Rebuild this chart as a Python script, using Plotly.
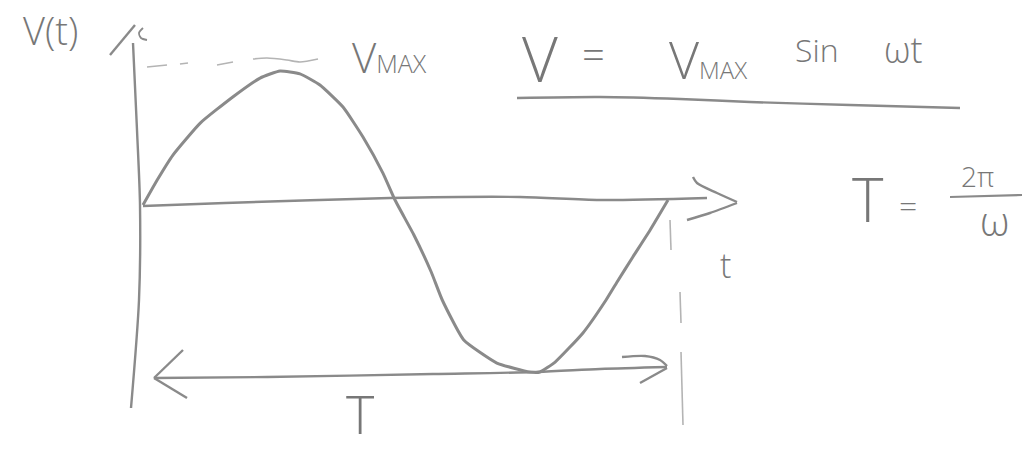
import plotly.graph_objects as go

# One period of the sketched waveform: time as a fraction of the period T,
# voltage as a fraction of V_MAX (hand-drawn, so the trough overshoots a bit).
t_frac = [0.000, 0.027, 0.057, 0.109, 0.171, 0.223, 0.261, 0.299, 0.337,
          0.381, 0.419, 0.457, 0.480, 0.516, 0.549, 0.570, 0.611, 0.674,
          0.737, 0.756, 0.785, 0.838, 0.882, 0.903, 0.933, 0.966, 1.000]
v_frac = [0.000, 0.176, 0.352, 0.577, 0.761, 0.894, 0.944, 0.923, 0.845,
          0.690, 0.479, 0.225, 0.035, -0.211, -0.472, -0.669, -0.951, -1.113,
          -1.176, -1.176, -1.106, -0.901, -0.669, -0.542, -0.366, -0.176, 0.035]

W, H = 1025, 451
# Where t=0 / v=0 sit on the sheet, and how many pixels one period / V_MAX spans
T0_PX, T_SPAN_PX = 143, 525
V0_PX, VMAX_PX = 205, 142

PENCIL = "#8a8a8a"
PENCIL_LIGHT = "#b4b4b4"
INK_FONT = dict(family="Open Sans", color="#777777", weight=300)

fig = go.Figure()

# Waveform on the data axes
fig.add_trace(go.Scatter(
    x=t_frac, y=v_frac, mode="lines",
    line=dict(color=PENCIL, width=3, shape="spline", smoothing=0.45),
    hoverinfo="skip", xaxis="x", yaxis="y",
))


def stroke(pts, color=PENCIL, width=2.4, smooth=True):
    xs = [p[0] for p in pts]
    ys = [p[1] for p in pts]
    fig.add_trace(go.Scatter(
        x=xs, y=ys, mode="lines",
        line=dict(color=color, width=width,
                  shape="spline" if smooth else "linear", smoothing=0.8),
        hoverinfo="skip", xaxis="x2", yaxis="y2",
    ))


# Axes of the sketch (sheet coordinates)
stroke([(133, 43), (137, 130), (140, 205), (139, 300), (131, 408)])
stroke([(110, 55), (135, 25)])
stroke([(143, 28), (139, 33), (141, 38), (147, 40)], width=1.8)
stroke([(143, 206), (225, 203), (390, 198), (520, 197), (600, 200), (707, 198)])
stroke([(693, 177), (697, 183), (717, 193), (737, 202)])
stroke([(737, 203), (710, 213), (687, 220)])

# V_MAX guide, pencilled lightly
stroke([(147, 67), (167, 65)], color=PENCIL_LIGHT, width=1.6)
stroke([(180, 64), (188, 63)], color=PENCIL_LIGHT, width=1.6)
stroke([(217, 65), (233, 62)], color=PENCIL_LIGHT, width=1.6)
stroke([(253, 59), (267, 58), (287, 60), (300, 62), (318, 59)],
       color=PENCIL_LIGHT, width=1.6)

# End-of-period marker
stroke([(670, 220), (671, 250)], color=PENCIL_LIGHT, width=1.6)
stroke([(680, 292), (681, 323)], color=PENCIL_LIGHT, width=1.6)
stroke([(681, 352), (683, 425)], color=PENCIL_LIGHT, width=1.6)

# Period span arrow
stroke([(154, 378), (267, 377), (433, 374), (537, 372), (600, 369), (667, 367)])
stroke([(183, 350), (154, 378)])
stroke([(154, 378), (187, 398)])
stroke([(622, 357), (645, 356), (660, 360), (667, 366)])
stroke([(667, 368), (640, 383)])

# Equation underline and fraction bar
stroke([(517, 98), (600, 97), (680, 99), (750, 102), (850, 105), (960, 108)])
stroke([(950, 197), (1022, 195)], width=2.2)


def label(text, x, y, size):
    fig.add_annotation(
        x=x, y=y, xref="x2", yref="y2", text=text, showarrow=False,
        xanchor="center", yanchor="middle",
        font=dict(size=size, **INK_FONT),
    )


label("V(t)", 50, 30, 38)
label("V<span style='font-size:25px'>MAX</span>", 389, 56, 42)

label("V", 540, 58, 62)
label("=", 593, 53, 40)
label("V<span style='font-size:24px'>MAX</span>", 708, 58, 52)
label("Sin", 817, 49, 32)
label("ωt", 903, 49, 36)

label("T", 868, 199, 60)
label("=", 908, 204, 32)
label("2π", 977, 176, 28)
label("ω", 994, 220, 40)

label("t", 725, 265, 34)
label("T", 360, 413, 54)

fig.update_layout(
    width=W, height=H,
    margin=dict(l=0, r=0, t=0, b=0),
    paper_bgcolor="white", plot_bgcolor="white",
    showlegend=False,
    xaxis=dict(range=[-T0_PX / T_SPAN_PX, (W - T0_PX) / T_SPAN_PX],
               visible=False, fixedrange=True),
    yaxis=dict(range=[(V0_PX - H) / VMAX_PX, V0_PX / VMAX_PX],
               visible=False, fixedrange=True),
    xaxis2=dict(range=[0, W], overlaying="x", visible=False, fixedrange=True),
    yaxis2=dict(range=[H, 0], overlaying="y", visible=False, fixedrange=True),
)

fig.write_html("out.html", config={"displayModeBar": False})
